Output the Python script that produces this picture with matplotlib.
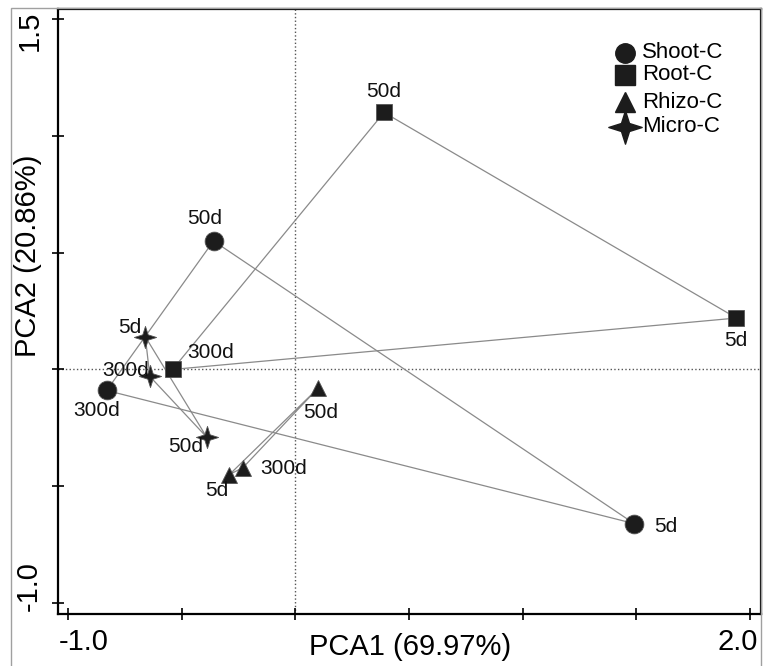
import matplotlib
matplotlib.use("Agg")
import matplotlib.pyplot as plt
import numpy as np
from matplotlib.path import Path
from matplotlib.patches import Rectangle

plt.rcParams['font.family'] = ['Liberation Sans', 'DejaVu Sans']

## PCA scores, order: 5d, 50d, 300d
days = ["5d", "50d", "300d"]
shoot_x = [1.49, -0.36, -0.83]
shoot_y = [-0.66, 0.55, -0.09]
root_x = [1.94, 0.39, -0.54]
root_y = [0.22, 1.10, 0.00]
rhizo_x = [-0.29, 0.10, -0.23]
rhizo_y = [-0.45, -0.08, -0.42]
micro_x = [-0.66, -0.39, -0.64]
micro_y = [0.14, -0.29, -0.03]

## label offsets in pixels for each point (5d, 50d, 300d)
shoot_off = [(32, -3), (-9, 22), (-10, -20)]
root_off = [(-1, -22), (0, 21), (38, 17)]
rhizo_off = [(-13, -16), (3, -24), (41, -1)]
micro_off = [(-16, 9), (-21, -9), (-24, 6)]

## four point star marker
a = 0.24
star = Path([(0, 1), (a, a), (1, 0), (a, -a), (0, -1), (-a, -a), (-1, 0), (-a, a), (0, 1)],
            [Path.MOVETO] + [Path.LINETO] * 7 + [Path.CLOSEPOLY])

mk = '#1c1c1c'
groups = [
    ("Shoot-C", shoot_x, shoot_y, shoot_off, 'o', 13.5),
    ("Root-C", root_x, root_y, root_off, 's', 12),
    ("Rhizo-C", rhizo_x, rhizo_y, rhizo_off, '^', 12),
    ("Micro-C", micro_x, micro_y, micro_off, star, 16),
]

fig = plt.figure(figsize=(7.68, 6.66), dpi=100)
ax = fig.add_axes([58 / 768, 1 - 614 / 666, 703 / 768, 605 / 666])

ax.axhline(0, color='#555555', ls=':', lw=1, zorder=1)
ax.axvline(0, color='#555555', ls=':', lw=1, zorder=1)

for name, xs, ys, offs, m, ms in groups:
    # triangle joining the three sampling times
    ax.plot(xs + [xs[0]], ys + [ys[0]], color='#8a8a8a', lw=0.9, zorder=2)
    ax.plot(xs, ys, ls='none', marker=m, ms=ms, color=mk, mec='#555555', mew=0.6, zorder=3)
    for d, x, y, off in zip(days, xs, ys, offs):
        ax.annotate(d, (x, y), xytext=off, textcoords='offset pixels',
                    ha='center', va='center', fontsize=15, color='#111111', zorder=4)

ax.set_xlim(-1.044, 2.048)
ax.set_ylim(-1.047, 1.543)
ax.set_xticks(np.arange(-1.0, 2.01, 0.5))
ax.set_yticks(np.arange(-1.0, 1.51, 0.5))
ax.set_xticklabels([])
ax.set_yticklabels([])
ax.tick_params(direction='inout', length=8, width=1.2)
for s in ax.spines.values():
    s.set_linewidth(1.6)

## tick labels and axis titles placed by hand as in the original
fs = 21
fig.text(84 / 768, 1 - 642 / 666, "-1.0", ha='center', va='center', fontsize=fs)
fig.text(738 / 768, 1 - 642 / 666, "2.0", ha='center', va='center', fontsize=fs)
fig.text(30 / 768, 1 - 31 / 666, "1.5", ha='center', va='center', fontsize=fs, rotation=90)
fig.text(29 / 768, 1 - 586 / 666, "-1.0", ha='center', va='center', fontsize=fs, rotation=90)
fig.text(410 / 768, 1 - 647 / 666, "PCA1 (69.97%)", ha='center', va='center', fontsize=fs)
fig.text(28 / 768, 1 - 256 / 666, "PCA2 (20.86%)", ha='center', va='center', fontsize=fs, rotation=90)

## legend drawn by hand
leg_y = [53, 75, 102, 127]
leg_ms = [14, 14, 15, 24]
for (name, xs, ys, offs, m, ms), py, lms in zip(groups, leg_y, leg_ms):
    fy = (614 - py) / 605
    ax.plot([(625 - 58) / 703], [fy], transform=ax.transAxes, marker=m, ms=lms,
            color=mk, ls='none', clip_on=False)
    ax.text((642 - 58) / 703, fy, name, transform=ax.transAxes, ha='left',
            va='center', fontsize=16)

## thin grey frame around the whole figure
fig.patches.append(Rectangle((11 / 768, -0.02), 750 / 768, 1.02 - 8 / 666,
                             transform=fig.transFigure, fill=False,
                             edgecolor='#a0a0a0', lw=1, zorder=0))

fig.savefig("out.png", dpi=100)
